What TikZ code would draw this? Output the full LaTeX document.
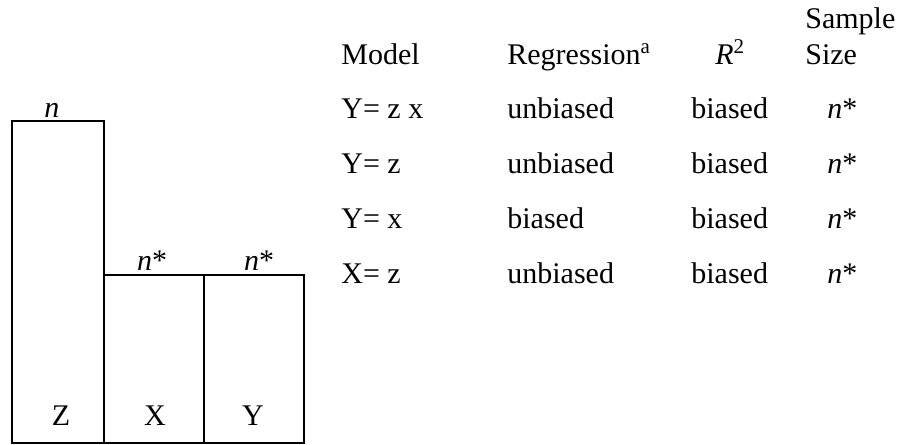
\documentclass[tikz,border=0pt]{standalone}
\usepackage{fontspec}
\setmainfont{Liberation Serif}
\usepackage{tikz}
\usetikzlibrary{positioning}
\tikzset{
  col/.style={draw,line width=1pt,inner sep=0pt,minimum width=#1},
  txt/.style={anchor=base west,inner sep=0pt},
  lbl/.style={anchor=base,inner sep=0pt}
}
\begin{document}
\begin{tikzpicture}[x=0.5pt,y=-0.5pt,font=\fontsize{15}{18}\selectfont]
\useasboundingbox (0,0) rectangle (901,445);
% sample blocks
\node[col=46pt,minimum height=161pt] (zbox) at (58,282) {};
\node[col=50pt,minimum height=84pt] (xbox) at (154,359) {};
\node[col=50pt,minimum height=84pt] (ybox) at (254,359) {};
\node[lbl] (zl) at (61,425) {Z};
\node[lbl] (xl) at (155,425) {X};
\node[lbl] (yl) at (253,425) {Y};
\node[lbl] (zn) at (52,117) {\textit{n}};
\node[lbl] (xn) at (152,270) {\textit{n}*};
\node[lbl] (yn) at (259,270) {\textit{n}*};
% table
\node[txt] (hsa) at (805,28) {Sample};
\node[txt] (hsi) at (805,64) {Size};
\node[txt] (hmo) at (341,64) {Model};
\node[txt] (hre) at (507,64) {Regression\textsuperscript{a}};
\node[txt] (hr2) at (715,64) {\textit{R}\textsuperscript{2}};
\node[txt] (m1) at (341,118) {Y= z x};
\node[txt] (r1) at (507,118) {unbiased};
\node[txt] (b1) at (691,118) {biased};
\node[txt] (s1) at (827,118) {\textit{n}*};
\node[txt] (m2) at (341,173) {Y= z};
\node[txt] (r2) at (507,173) {unbiased};
\node[txt] (b2) at (691,173) {biased};
\node[txt] (s2) at (827,173) {\textit{n}*};
\node[txt] (m3) at (341,228) {Y= x};
\node[txt] (r3) at (507,228) {biased};
\node[txt] (b3) at (691,228) {biased};
\node[txt] (s3) at (827,228) {\textit{n}*};
\node[txt] (m4) at (341,283) {X= z};
\node[txt] (r4) at (507,283) {unbiased};
\node[txt] (b4) at (691,283) {biased};
\node[txt] (s4) at (827,283) {\textit{n}*};
\end{tikzpicture}
\end{document}
